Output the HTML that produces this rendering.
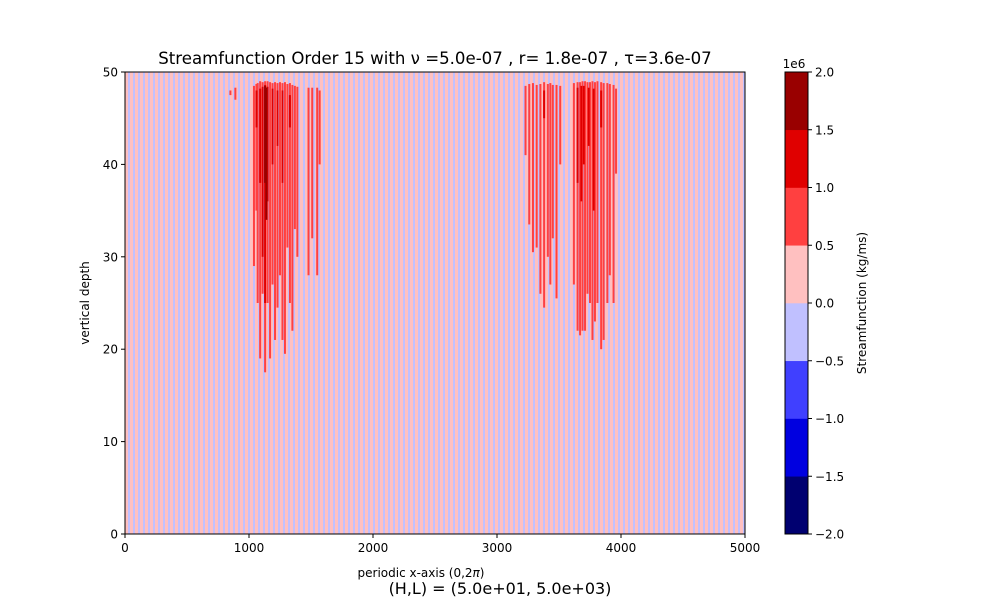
<!DOCTYPE html>
<html><head><meta charset="utf-8"><style>
body{margin:0;background:#fff;font-family:"Liberation Sans","DejaVu Sans",sans-serif;}
svg text{font-family:"DejaVu Sans","Liberation Sans",sans-serif;}
</style></head><body>
<svg id="chart" width="1000" height="600" viewBox="0 0 1000 600" xmlns="http://www.w3.org/2000/svg">
<text x="435" y="64" font-size="16.6" text-anchor="middle">Streamfunction Order 15 with ν =5.0e-07 , r= 1.8e-07 , τ=3.6e-07</text>
<rect x="125" y="72" width="620" height="462" fill="#ffc0c0"/>
<g id="stripes" shape-rendering="crispEdges"></g>
<g id="marks"></g>
<rect x="125" y="72" width="620" height="462" fill="none" stroke="#000" stroke-width="1"/>
<g id="xaxis"></g>
<g id="yaxis"></g>
<text x="421" y="577" font-size="12" text-anchor="middle">periodic x-axis (0,2<tspan font-style="italic">π</tspan>)</text>
<text transform="translate(89,303) rotate(-90)" font-size="12" text-anchor="middle">vertical depth</text>
<text x="500" y="594" font-size="16" text-anchor="middle">(H,L) = (5.0e+01, 5.0e+03)</text>
<g id="cbar"></g>
<text x="794" y="68" font-size="12" text-anchor="middle">1e6</text>
<text transform="translate(866,303) rotate(-90)" font-size="12" text-anchor="middle">Streamfunction (kg/ms)</text>
</svg>
<script>
const xTicks=[0,1000,2000,3000,4000,5000];
const yTicks=[0,10,20,30,40,50];
const cbLevels=[-2.0,-1.5,-1.0,-0.5,0.0,0.5,1.0,1.5,2.0];
const cbColors=["#000070","#0000e0","#4040ff","#c0c0ff","#ffc0c0","#ff4040","#e00000","#990000"];
const streakX=[850,890,1040,1060,1070,1090,1110,1130,1150,1170,1190,1210,1230,1250,1270,1290,1310,1330,1350,1370,1390,1480,1510,1550,1570,
3230,3260,3290,3320,3350,3380,3410,3430,3450,3480,3510,3620,3650,3670,3690,3710,3730,3750,3770,3790,3810,3840,3860,3890,3910,3940,3960];
const streakTop=[48,48.3,48.5,48.7,48.8,49,48.9,49,49,48.9,48.8,48.9,48.8,48.9,48.8,48.9,48.7,48.8,48.6,48.5,48.4,48.3,48.3,48.3,48,
48.5,48.7,48.8,48.6,48.7,48.9,48.7,48.8,48.6,48.6,48.5,48.8,48.9,48.9,49,49,48.9,48.9,49,48.9,49,48.9,48.8,48.8,48.7,48.6,48.2];
const streakBottom=[47.5,47,29,35,25,19,26,17.5,25,19,27,21,24.5,28,21,19.5,31,25,22,33,30,28,32,28,40,
41,33.5,30.5,31,26,24.5,30,27,32,25.5,40,27,22,21.5,22,22,26,25,21,23,25,20,21,25,28,25,39];
const darkX=[1060,1090,1110,1130,1150,1190,1230,1270,1330,3380,3650,3680,3700,3740,3780,3840];
const darkTop=[48,48.2,48.4,48.6,48.4,48.2,48,48,47.5,48,48.3,48.5,48.5,48.3,48.2,48];
const darkBottom=[44,38,30,25,36,40,42,38,44,45,38,36,40,42,35,44];
const deepX=[1130,1140];
const deepTop=[48.5,48.3];
const deepBottom=[38,34];

const X0=125,X1=745,Y0=534,Y1=72;
const sx=v=>X0+(v-0)/(5000-0)*(X1-X0);
const sy=v=>Y0-(v-0)/(50-0)*(Y0-Y1);
const NS="http://www.w3.org/2000/svg";
function mk(tag,attrs,parent){const e=document.createElementNS(NS,tag);for(const k in attrs)e.setAttribute(k,attrs[k]);parent.appendChild(e);return e;}
const st=document.getElementById('stripes');
for(let x=128;x<745;x+=5){
 const r=mk('rect',{x:x,y:72,width:2,height:462,fill:'#c0c0ff'},st);
 
 
}
const marks=document.getElementById('marks');
function drawStreaks(xs,ts,bs,color,name){
 for(let i=0;i<xs.length;i++){
  const r=mk('rect',{x:sx(xs[i])-1,y:sy(ts[i]),width:2,height:sy(bs[i])-sy(ts[i]),fill:color},marks);
  
  
 }
}
drawStreaks(streakX,streakTop,streakBottom,"#ff4040","streak");
drawStreaks(darkX,darkTop,darkBottom,"#e00000","streak-strong");
drawStreaks(deepX,deepTop,deepBottom,"#990000","streak-peak");

const xa=document.getElementById('xaxis');
xTicks.forEach(t=>{
 const l=mk('line',{x1:sx(t),x2:sx(t),y1:Y0,y2:Y0+4,stroke:"#000"},xa);
 
 
 const tx=mk('text',{x:sx(t),y:Y0+18,'font-size':12,'text-anchor':'middle'},xa);
 tx.textContent=t;
 
 
});
const ya=document.getElementById('yaxis');
yTicks.forEach(t=>{
 const l=mk('line',{x1:X0-4,x2:X0,y1:sy(t),y2:sy(t),stroke:"#000"},ya);
 
 
 const tx=mk('text',{x:X0-7,y:sy(t)+4.5,'font-size':12,'text-anchor':'end'},ya);
 tx.textContent=t;
 
 
});
const cb=document.getElementById('cbar');
const CX=785,CW=23;
const cy=v=>534-(v+2)/4*462;
for(let i=0;i<cbColors.length;i++){
 const r=mk('rect',{x:CX,y:cy(cbLevels[i+1]),width:CW,height:cy(cbLevels[i])-cy(cbLevels[i+1])+0.3,fill:cbColors[i]},cb);
 
 
}
const fr=mk('rect',{x:CX,y:72,width:CW,height:462,fill:'none',stroke:'#000'},cb);


cbLevels.forEach(v=>{
 const l=mk('line',{x1:CX+CW,x2:CX+CW+4,y1:cy(v),y2:cy(v),stroke:'#000'},cb);
 
 
 const tx=mk('text',{x:CX+CW+7,y:cy(v)+4.5,'font-size':12},cb);
 tx.textContent=(v<0?'\u2212':'')+Math.abs(v).toFixed(1);
 
 
});
</script>
</body></html>
